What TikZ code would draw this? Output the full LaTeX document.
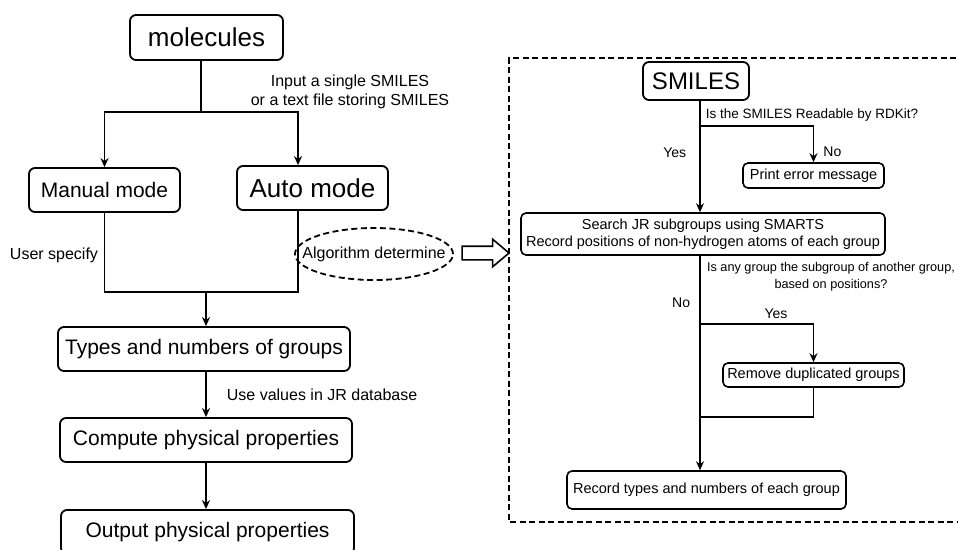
\documentclass[tikz,border=0pt]{standalone}
\usepackage{fontspec}
\setmainfont{Liberation Sans}
\usetikzlibrary{
arrows.meta,
positioning,
shapes.geometric,
shapes.arrows
}

\begin{document}
\begin{tikzpicture}[
  x=1pt, y=-1pt,
  >={Stealth[length=9pt,width=8pt]},
  line width=1.8pt,
  main/.style={draw, line width=1.8pt, rounded corners=6pt, align=center, inner sep=2pt, font=\fontsize{21}{24}\selectfont},
  big/.style={main, font=\fontsize{26}{30}\selectfont},
  small/.style={draw, line width=1.6pt, rounded corners=5pt, align=center, inner sep=2pt, font=\fontsize{14.5}{17}\selectfont},
  note/.style={font=\fontsize{16}{19}\selectfont, align=center, inner sep=0pt},
  tiny/.style={font=\fontsize{13.5}{17}\selectfont, align=center, inner sep=0pt},
  yn/.style={font=\fontsize{14}{16}\selectfont, inner sep=0pt},
  frame/.style={dash pattern=on 6pt off 3.5pt, line width=1.8pt}
]
\path[use as bounding box, clip] (0,0) rectangle (958,549);

% Nodes (left)
\node[big, minimum width=153pt, minimum height=45pt] (mol) at (206.5,37.5) {molecules};
\node[main, minimum width=151pt, minimum height=44pt] (manual) at (104.5,190) {Manual mode};
\node[big, minimum width=151pt, minimum height=44pt] (auto) at (312.5,188) {Auto mode};
\node[main, minimum width=292pt, minimum height=44pt] (types) at (204,349) {Types and numbers of groups};
\node[main, minimum width=292pt, minimum height=44pt] (compute) at (206,440) {Compute physical properties};
\node[main, minimum width=293pt, minimum height=44pt] (output) at (207.5,532) {Output physical properties};
\node[note] (input) at (350,92) {Input a single SMILES\\or a text file storing SMILES};
\node[note] (user) at (54,255) {User specify};
\node[draw, ellipse, frame, minimum width=158pt, minimum height=52pt] (algo) at (374,254) {};
\node[note] (algotext) at (algo) {Algorithm determine};
\node[draw, single arrow, line width=1.6pt, inner sep=6pt, minimum height=47pt,
      single arrow head extend=7pt, single arrow tip angle=80] (push) at (481.5,253) {};

% Nodes (right)
\node[big, font=\fontsize{24}{28}\selectfont, minimum width=106pt, minimum height=38pt] (smiles) at (696,81) {SMILES};
\node[small, minimum width=141pt, minimum height=25pt] (error) at (813.5,175.5) {Print error message};
\node[small, minimum width=364pt, minimum height=42pt] (search) at (703,234) {Search JR subgroups using SMARTS\\Record positions of non-hydrogen atoms of each group};
\node[small, minimum width=181pt, minimum height=24pt] (remove) at (813.5,375) {Remove duplicated groups};
\node[small, minimum width=279pt, minimum height=38pt] (record) at (706.5,490) {Record types and numbers of each group};
\node[tiny, anchor=west] (readq) at (705,115) {Is the SMILES Readable by RDKit?};
\node[tiny, font=\fontsize{12.7}{17}\selectfont] (subq) at (831,277) {Is any group the subgroup of another group,\\based on positions?};

% Branch points
\coordinate (split) at (201,112);
\coordinate (join) at (206,292);
\coordinate (trunk) at (700,126);
\coordinate (ask) at (700,324);
\coordinate (merge) at (700,417);

% Edges (left)
\draw (mol.south -| split) -- (split);
\draw[->] (split) -| (manual.north);
\draw[->] (split) -| ([xshift=-14.5pt]auto.north);
\draw (manual.south) |- (join) -| ([xshift=-14.5pt]auto.south);
\draw[->] (join) -- (join |- types.north);
\draw[->] (join |- types.south) -- node[note, right=20pt]{Use values in JR database} (join |- compute.north);
\draw[->] (join |- compute.south) -- (join |- output.north);

% Edges (right)
\draw[->] (smiles.south -| trunk) -- node[yn, pos=0.47, left=13pt]{Yes} (trunk |- search.north);
\draw[->] (trunk) -| node[yn, pos=0.85, right=9pt]{No} (error.north);
\draw[->] (search.south -| trunk) -- node[yn, pos=0.22, left=9pt]{No} (record.north -| trunk);
\draw[->] (ask) -| node[yn, pos=0.335, above=4pt]{Yes} (remove.north);
\draw (remove.south) |- (merge);

% Dashed frame
\draw[frame] (975,58) -| (509,522) -- (975,522);

\end{tikzpicture}
\end{document}
